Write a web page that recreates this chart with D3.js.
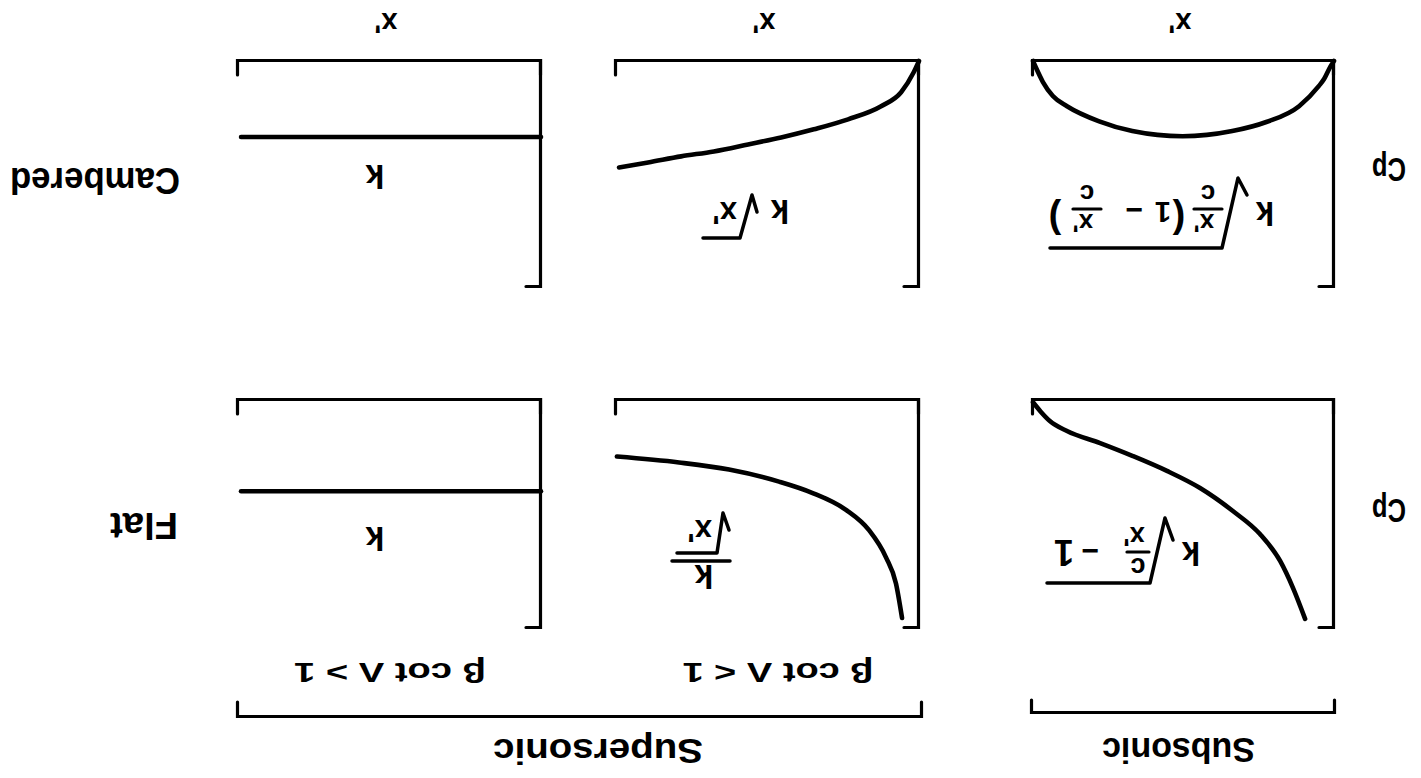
<!DOCTYPE html>
<html>
<head>
<meta charset="utf-8">
<script src="https://cdn.jsdelivr.net/npm/d3@7"></script>
<style>
  html, body { margin: 0; padding: 0; background: #fff; }
  svg { display: block; }
</style>
</head>
<body>
<script>
// ---------------- DATA ----------------
const rowLabels = ["Flat", "Cambered"];
const groupLabels = ["Subsonic", "Supersonic"];
const conditionLabels = ["β cot Λ < 1", "β cot Λ > 1"];
const xAxisLabel = "x'";
const yAxisLabel = "Cp";

// [x'/c, Cp (relative to panel height)]
const flatSubsonic = [
  [0.096, 0.96], [0.136, 0.825], [0.179, 0.706], [0.246, 0.588], [0.336, 0.487],
  [0.445, 0.386], [0.555, 0.311], [0.668, 0.246], [0.777, 0.189], [0.887, 0.136],
  [0.944, 0.092], [0.975, 0.05], [1.0, 0.01]
];
const flatSupersonicLow = [
  [0.056, 0.956], [0.076, 0.805], [0.109, 0.69], [0.165, 0.571], [0.241, 0.482],
  [0.353, 0.407], [0.462, 0.358], [0.627, 0.305], [0.792, 0.274], [0.997, 0.248]
];
const flatSupersonicHigh = [[0.0, 0.40], [0.99, 0.40]];

const camberedSubsonic = [
  [0.0, 0.0], [0.012, 0.025], [0.033, 0.08], [0.05, 0.11], [0.116, 0.2], [0.225, 0.27],
  [0.338, 0.31], [0.503, 0.333], [0.67, 0.31], [0.78, 0.267], [0.887, 0.2],
  [0.934, 0.155], [0.967, 0.093], [0.99, 0.03], [1.0, 0.0]
];
const camberedSupersonicLow = [
  [0.0, 0.0], [0.017, 0.049], [0.059, 0.138], [0.125, 0.2], [0.234, 0.258],
  [0.347, 0.302], [0.455, 0.338], [0.564, 0.369], [0.677, 0.4], [0.785, 0.422],
  [0.894, 0.449], [0.99, 0.471]
];
const camberedSupersonicHigh = [[0.0, 0.336], [0.99, 0.336]];

// ---------------- LAYOUT ----------------
const W = 1421, H = 778;
const colX = [[87, 388], [502, 805], [880, 1183]];   // [Cp axis x, chord end x]
const rowY = [[150, 378], [491, 717]];               // [top, baseline]
const FONT = "'Liberation Sans', Arial, Helvetica, sans-serif";

const curves = [
  [flatSubsonic, flatSupersonicLow, flatSupersonicHigh],
  [camberedSubsonic, camberedSupersonicLow, camberedSupersonicHigh]
];

const svg = d3.select("body").append("svg")
  .attr("width", W).attr("height", H)
  .attr("font-family", FONT).attr("font-weight", "bold");
svg.append("rect").attr("width", W).attr("height", H).attr("fill", "#fff");

// whole drawing is shown upside down, as in the reference
const root = svg.append("g").attr("transform", `rotate(180 ${W / 2} ${H / 2})`);

function styleAxis(sel, w) {
  sel.select(".domain").attr("stroke", "#000").attr("stroke-width", w)
     .attr("fill", "none").attr("stroke-linejoin", "miter").attr("stroke-linecap", "round");
  sel.selectAll(".tick").remove();
}
function txt(g, s, x, y, size, anchor) {
  return g.append("text").attr("x", x).attr("y", y).attr("font-size", size)
    .attr("text-anchor", anchor || "middle").attr("fill", "#000").text(s);
}
function strokePath(g, pts, w) {
  g.append("path").attr("d", d3.line()(pts)).attr("fill", "none")
    .attr("stroke", "#000").attr("stroke-width", w || 3.5)
    .attr("stroke-linejoin", "round").attr("stroke-linecap", "round");
}
// stacked fraction: numerator / bar / denominator
function frac(g, num, den, cx, numY, denY, barY, half, size) {
  txt(g, num, cx + (num.length > 1 ? 4 : 0), numY, size);
  txt(g, den, cx + (den.length > 1 ? 4 : 0), denY, size);
  strokePath(g, [[cx - half, barY], [cx + half, barY]], 3.2);
}

for (let r = 0; r < 2; r++) {
  for (let c = 0; c < 3; c++) {
    const x = d3.scaleLinear().domain([0, 1]).range(colX[c]);
    const y = d3.scaleLinear().domain([0, 1]).range([rowY[r][1], rowY[r][0]]);
    const g = root.append("g");
    g.append("g").attr("transform", `translate(0,${rowY[r][1]})`)
      .call(d3.axisBottom(x).tickValues([]).tickSizeOuter(-14)).call(s => styleAxis(s, 3.2));
    g.append("g").attr("transform", `translate(${colX[c][0]},0)`)
      .call(d3.axisLeft(y).tickValues([]).tickSizeOuter(-15)).call(s => styleAxis(s, 3.2));
    const line = d3.line().x(d => x(d[0])).y(d => y(d[1])).curve(d3.curveMonotoneX);
    g.append("path").datum(curves[r][c]).attr("d", line)
      .attr("fill", "none").attr("stroke", "#000").attr("stroke-width", 4.6)
      .attr("stroke-linecap", "round");
  }
}

// ---------- formula labels (panel-local coordinates) ----------
function panel(r, c) {
  return root.append("g").attr("transform", `translate(${colX[c][0]},${rowY[r][0]})`);
}
// Flat / Subsonic : k sqrt(c/x' - 1)
{
  const g = panel(0, 0);
  txt(g, "k", 143, 86, 33);
  strokePath(g, [[161, 88], [169, 110], [184, 45], [287, 45]]);
  frac(g, "c", "x'", 196, 70, 101, 76, 11, 27);
  txt(g, "−", 244, 87, 30);
  txt(g, "1", 270, 88, 36);
}
// Flat / Supersonic < 1 : k / sqrt(x')
{
  const g = panel(0, 1);
  txt(g, "k", 215, 63, 34);
  strokePath(g, [[189, 67], [247, 67]], 3.5);
  strokePath(g, [[190, 98], [196, 115], [202, 75], [242, 75]]);
  txt(g, "x'", 207, 108, 31, "start");
}
// Flat / Supersonic > 1 : k
txt(panel(0, 2), "k", 166, 101, 34);
// Cambered / Subsonic : k sqrt(x'/c (1 - x'/c))
{
  const g = panel(1, 0);
  txt(g, "k", 69, 85, 33);
  strokePath(g, [[87, 92], [96, 109], [112, 39], [284, 39]]);
  frac(g, "x'", "c", 126, 73, 102, 78, 14, 26);
  txt(g, "(", 155, 80, 38);
  txt(g, "1", 171, 85, 29);
  txt(g, "−", 200, 87, 30);
  frac(g, "x'", "c", 247, 73, 102, 78, 14, 26);
  txt(g, ")", 279, 80, 38);
}
// Cambered / Supersonic < 1 : k sqrt(x')
{
  const g = panel(1, 1);
  txt(g, "k", 139, 87, 33);
  strokePath(g, [[162, 75], [167, 92], [179, 49], [216, 49]]);
  txt(g, "x'", 182, 85, 31, "start");
}
// Cambered / Supersonic > 1 : k
txt(panel(1, 2), "k", 166, 122, 34);

// ---------- axis titles ----------
colX.forEach(cx => {
  txt(root, xAxisLabel, (cx[0] + cx[1]) / 2 - 8, 765, 29, "start");
});
rowY.forEach(ry => {
  txt(root, yAxisLabel, 15, ry[0] + 129, 34, "start")
    .attr("textLength", 34).attr("lengthAdjust", "spacingAndGlyphs");
});

// ---------- row labels ----------
txt(root, rowLabels[0], 1243, 265, 36, "start").attr("textLength", 68).attr("lengthAdjust", "spacingAndGlyphs");
txt(root, rowLabels[1], 1241, 610, 36, "start").attr("textLength", 170).attr("lengthAdjust", "spacingAndGlyphs");

// ---------- group brackets ----------
const subBracket = d3.scaleLinear().domain([0, 1]).range([86, 389]);
const supBracket = d3.scaleLinear().domain([0, 1]).range([499, 1183]);
root.append("g").attr("transform", "translate(0,65)")
  .call(d3.axisTop(subBracket).tickValues([]).tickSizeOuter(-13)).call(s => styleAxis(s, 3.2));
root.append("g").attr("transform", "translate(0,61)")
  .call(d3.axisTop(supBracket).tickValues([]).tickSizeOuter(-15)).call(s => styleAxis(s, 3.2));

txt(root, groupLabels[0], 242.5, 40, 35).attr("textLength", 153).attr("lengthAdjust", "spacingAndGlyphs");
txt(root, groupLabels[1], 823, 39, 35).attr("textLength", 210).attr("lengthAdjust", "spacingAndGlyphs");

txt(root, conditionLabels[0], 643, 115, 27).attr("textLength", 191).attr("lengthAdjust", "spacingAndGlyphs");
txt(root, conditionLabels[1], 1031, 115, 27).attr("textLength", 192).attr("lengthAdjust", "spacingAndGlyphs");
</script>
</body>
</html>
